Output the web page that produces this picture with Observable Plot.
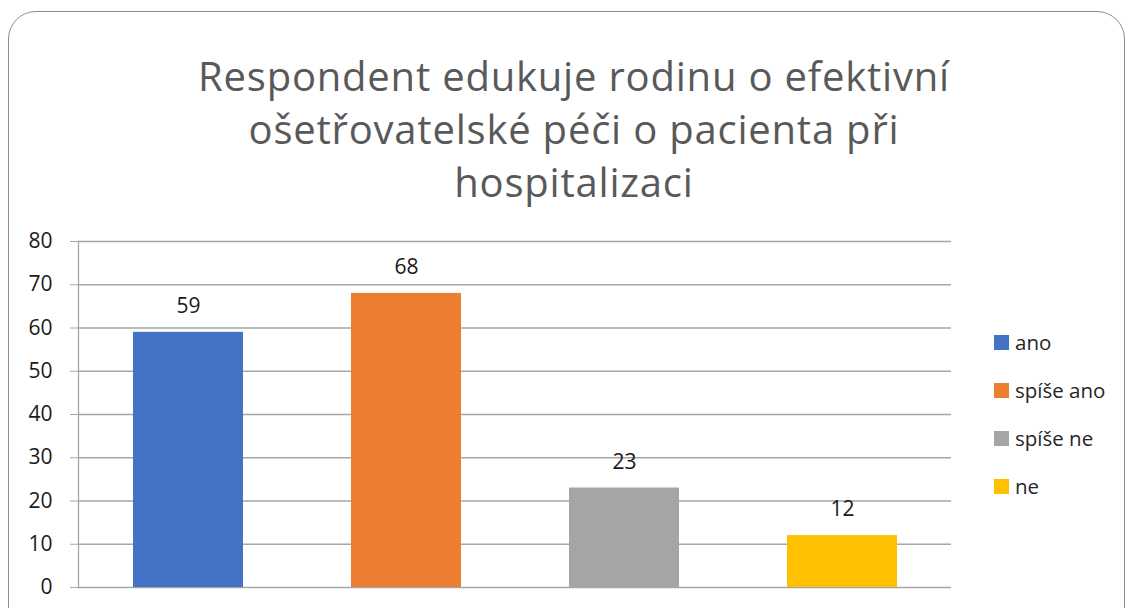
<!DOCTYPE html>
<html>
<head>
<meta charset="utf-8">
<script src="https://cdn.jsdelivr.net/npm/d3@7"></script>
<script src="https://cdn.jsdelivr.net/npm/@observablehq/plot@0.6"></script>
<style>
  html, body { margin: 0; padding: 0; background: #fff; }
  #wrap { position: relative; width: 1132px; height: 608px; overflow: hidden; font-family: "Open Sans", "Liberation Sans", Arial, sans-serif; }
  #border { position: absolute; left: 8px; top: 11px; width: 1117px; height: 640px; border: 1.5px solid #8c8c8c; border-radius: 28px; box-sizing: border-box; }
  #title { position: absolute; left: 0; width: 1148px; top: 49px; text-align: center; font-size: 40px; line-height: 53px; color: #595959; }
  #title span { white-space: nowrap; }
  #chart { position: absolute; left: 0; top: 0; }
  #legend { position: absolute; left: 994px; top: 0; }
  .item { position: absolute; left: 0; white-space: nowrap; font-size: 20.5px; color: #262626; display: flex; align-items: center; }
  .sw { width: 15px; height: 15px; margin-right: 6px; display: inline-block; }
</style>
</head>
<body>
<div id="wrap">
  <div id="border"></div>
  <div id="title"></div>
  <div id="chart"></div>
  <div id="legend"></div>
</div>
<script>
const titleLines = ["Respondent edukuje rodinu o efektivní", "ošetřovatelské péči o pacienta při", "hospitalizaci"];
const categories = ["ano", "spíše ano", "spíše ne", "ne"];
const values = [59, 68, 23, 12];
const colors = ["#4472C4", "#ED7D31", "#A5A5A5", "#FFC000"];
const yTicks = [0, 10, 20, 30, 40, 50, 60, 70, 80];

const titleEl = document.getElementById("title");
titleEl.innerHTML = titleLines.map(l => `<span>${l}</span>`).join("<br>");
// stretch letter spacing so the first line spans about 752px like the reference
const first = titleEl.querySelector("span");
const w0 = first.getBoundingClientRect().width;
const ls = (752 - w0) / titleLines[0].length;
titleEl.style.letterSpacing = ls.toFixed(2) + "px";

const data = categories.map((c, i) => ({category: c, value: values[i]}));
const font = "'Open Sans', 'Liberation Sans', Arial, sans-serif";

const chart = Plot.plot({
  width: 1132,
  height: 608,
  marginLeft: 78,
  marginRight: 181,
  marginTop: 241,
  marginBottom: 21,
  style: {fontFamily: font, background: "transparent", overflow: "visible"},
  x: {domain: categories, paddingInner: 0.496, paddingOuter: 0.248, axis: null},
  y: {domain: [0, 80]},
  color: {domain: categories, range: colors},
  marks: [
    Plot.gridY(yTicks, {stroke: "#a6a6a6", strokeOpacity: 1, strokeWidth: 1.3}),
    Plot.axisY(yTicks, {tickSize: 8, tickPadding: 18, stroke: "#a6a6a6", strokeOpacity: 1, fontSize: 21, fill: "#1a1a1a", label: null}),
    Plot.frame({anchor: "left", stroke: "#a6a6a6", strokeWidth: 1.3}),
    Plot.barY(data, {x: "category", y: "value", fill: "category"}),
    Plot.text(data, {x: "category", y: "value", text: d => String(d.value), dy: -26, fontSize: 21, fill: "#1a1a1a", lineAnchor: "middle"})
  ]
});
document.getElementById("chart").appendChild(chart);

const legend = document.getElementById("legend");
const legendTop = [342, 390, 437, 486];
categories.forEach((c, i) => {
  const it = document.createElement("div");
  it.className = "item";
  it.style.top = (legendTop[0] + i * 48 - 12) + "px";
  it.style.height = "24px";
  it.innerHTML = `<span class="sw" style="background:${colors[i]}"></span><span>${c}</span>`;
  legend.appendChild(it);
});
</script>
</body>
</html>
